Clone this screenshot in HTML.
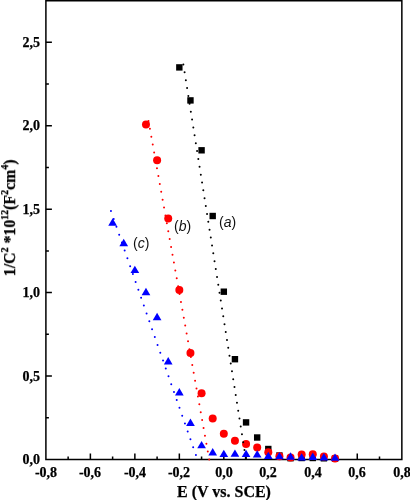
<!DOCTYPE html>
<html><head><meta charset="utf-8"><style>
html,body{margin:0;padding:0;background:#fff;}
body{width:410px;height:500px;position:relative;overflow:hidden;font-family:"Liberation Serif",serif;}
.tl,.ttl{will-change:transform;-webkit-text-stroke:0.25px #000;}
.lab{will-change:transform;}
.tl{position:absolute;font-weight:bold;font-size:14px;line-height:14px;white-space:nowrap;color:#000;}
.xl{transform:translateX(-50%);}
.yl{text-align:right;width:40px;}
.lab{position:absolute;font-family:"Liberation Sans",sans-serif;font-size:14px;line-height:14px;color:#111;white-space:nowrap;}
.ttl{position:absolute;font-weight:bold;font-size:16px;line-height:16px;white-space:nowrap;color:#000;}
sup{font-size:10px;vertical-align:baseline;position:relative;top:-7.5px;line-height:0}
</style></head><body>
<svg width="410" height="500" viewBox="0 0 410 500" style="position:absolute;left:0;top:0">
<path d="M68.14 459.50V456.50M90.38 459.50V453.50M112.62 459.50V456.50M134.86 459.50V453.50M157.10 459.50V456.50M179.34 459.50V453.50M201.58 459.50V456.50M223.82 459.50V453.50M246.06 459.50V456.50M268.30 459.50V453.50M290.54 459.50V456.50M312.78 459.50V453.50M335.02 459.50V456.50M357.26 459.50V453.50M379.50 459.50V456.50M45.90 417.77H48.90M45.90 376.05H51.90M45.90 334.32H48.90M45.90 292.60H51.90M45.90 250.88H48.90M45.90 209.15H51.90M45.90 167.43H48.90M45.90 125.70H51.90M45.90 83.97H48.90M45.90 42.25H51.90" stroke="#000" stroke-width="1.5" fill="none"/>
<rect x="45.9" y="0.75" width="355.95" height="458.75" fill="none" stroke="#000" stroke-width="1.5"/>
<rect x="176.14" y="64.20" width="6.4" height="6.4" fill="#000"/>
<rect x="187.26" y="97.20" width="6.4" height="6.4" fill="#000"/>
<rect x="198.38" y="147.10" width="6.4" height="6.4" fill="#000"/>
<rect x="209.50" y="212.80" width="6.4" height="6.4" fill="#000"/>
<rect x="220.62" y="288.50" width="6.4" height="6.4" fill="#000"/>
<rect x="231.74" y="356.00" width="6.4" height="6.4" fill="#000"/>
<rect x="242.86" y="419.20" width="6.4" height="6.4" fill="#000"/>
<rect x="253.98" y="434.30" width="6.4" height="6.4" fill="#000"/>
<rect x="265.10" y="445.80" width="6.4" height="6.4" fill="#000"/>
<rect x="276.22" y="452.30" width="6.4" height="6.4" fill="#000"/>
<rect x="287.34" y="455.00" width="6.4" height="6.4" fill="#000"/>
<rect x="298.46" y="454.80" width="6.4" height="6.4" fill="#000"/>
<rect x="309.58" y="454.80" width="6.4" height="6.4" fill="#000"/>
<rect x="320.70" y="455.10" width="6.4" height="6.4" fill="#000"/>
<rect x="331.82" y="455.40" width="6.4" height="6.4" fill="#000"/>
<circle cx="145.98" cy="124.50" r="4.0" fill="#f00"/>
<circle cx="157.10" cy="160.20" r="4.0" fill="#f00"/>
<circle cx="168.22" cy="218.60" r="4.0" fill="#f00"/>
<circle cx="179.34" cy="290.00" r="4.0" fill="#f00"/>
<circle cx="190.46" cy="353.10" r="4.0" fill="#f00"/>
<circle cx="201.58" cy="393.20" r="4.0" fill="#f00"/>
<circle cx="212.70" cy="418.40" r="4.0" fill="#f00"/>
<circle cx="223.82" cy="433.80" r="4.0" fill="#f00"/>
<circle cx="234.94" cy="440.80" r="4.0" fill="#f00"/>
<circle cx="246.06" cy="444.00" r="4.0" fill="#f00"/>
<circle cx="257.18" cy="447.60" r="4.0" fill="#f00"/>
<circle cx="268.30" cy="452.20" r="4.0" fill="#f00"/>
<circle cx="279.42" cy="456.30" r="4.0" fill="#f00"/>
<circle cx="290.54" cy="457.40" r="4.0" fill="#f00"/>
<circle cx="301.66" cy="454.40" r="4.0" fill="#f00"/>
<circle cx="312.78" cy="454.20" r="4.0" fill="#f00"/>
<circle cx="323.90" cy="456.60" r="4.0" fill="#f00"/>
<circle cx="335.02" cy="458.40" r="4.0" fill="#f00"/>
<path d="M112.62 218.30L116.97 225.70L108.27 225.70Z" fill="#00f"/>
<path d="M123.74 238.80L128.09 246.20L119.39 246.20Z" fill="#00f"/>
<path d="M134.86 265.70L139.21 273.10L130.51 273.10Z" fill="#00f"/>
<path d="M145.98 287.80L150.33 295.20L141.63 295.20Z" fill="#00f"/>
<path d="M157.10 312.80L161.45 320.20L152.75 320.20Z" fill="#00f"/>
<path d="M168.22 357.10L172.57 364.50L163.87 364.50Z" fill="#00f"/>
<path d="M179.34 388.10L183.69 395.50L174.99 395.50Z" fill="#00f"/>
<path d="M190.46 418.60L194.81 426.00L186.11 426.00Z" fill="#00f"/>
<path d="M201.58 440.90L205.93 448.30L197.23 448.30Z" fill="#00f"/>
<path d="M212.70 448.00L217.05 455.40L208.35 455.40Z" fill="#00f"/>
<path d="M223.82 449.70L228.17 457.10L219.47 457.10Z" fill="#00f"/>
<path d="M234.94 449.40L239.29 456.80L230.59 456.80Z" fill="#00f"/>
<path d="M246.06 449.65L250.41 457.05L241.71 457.05Z" fill="#00f"/>
<path d="M257.18 450.15L261.53 457.55L252.83 457.55Z" fill="#00f"/>
<path d="M268.30 451.70L272.65 459.10L263.95 459.10Z" fill="#00f"/>
<path d="M279.42 451.95L283.77 459.35L275.07 459.35Z" fill="#00f"/>
<path d="M290.54 452.30L294.89 459.70L286.19 459.70Z" fill="#00f"/>
<path d="M301.66 453.15L306.01 460.55L297.31 460.55Z" fill="#00f"/>
<path d="M312.78 452.55L317.13 459.95L308.43 459.95Z" fill="#00f"/>
<path d="M323.90 453.00L328.25 460.40L319.55 460.40Z" fill="#00f"/>
<path d="M335.02 453.40L339.37 460.80L330.67 460.80Z" fill="#00f"/>
<path d="M183.35 64.45L245.95 459.50" stroke="#000" stroke-width="2" stroke-linecap="round" stroke-dasharray="0 7.968" fill="none"/>
<path d="M148.50 120.95L209.23 459.50" stroke="#f00" stroke-width="2" stroke-linecap="round" stroke-dasharray="0 7.996" fill="none"/>
<path d="M110.96 211.10L197.46 459.50" stroke="#00f" stroke-width="2" stroke-linecap="round" stroke-dasharray="0 8.333" fill="none"/>
</svg>
<div class="tl xl" style="left:45.90px;top:465.5px">-0,8</div>
<div class="tl xl" style="left:90.38px;top:465.5px">-0,6</div>
<div class="tl xl" style="left:134.86px;top:465.5px">-0,4</div>
<div class="tl xl" style="left:179.34px;top:465.5px">-0,2</div>
<div class="tl xl" style="left:223.82px;top:465.5px">0,0</div>
<div class="tl xl" style="left:268.30px;top:465.5px">0,2</div>
<div class="tl xl" style="left:312.78px;top:465.5px">0,4</div>
<div class="tl xl" style="left:357.26px;top:465.5px">0,6</div>
<div class="tl xl" style="left:401.74px;top:465.5px">0,8</div>
<div class="tl yl" style="left:0px;top:453.00px">0,0</div>
<div class="tl yl" style="left:0px;top:369.55px">0,5</div>
<div class="tl yl" style="left:0px;top:286.10px">1,0</div>
<div class="tl yl" style="left:0px;top:202.65px">1,5</div>
<div class="tl yl" style="left:0px;top:119.20px">2,0</div>
<div class="tl yl" style="left:0px;top:35.75px">2,5</div>
<div class="lab" style="left:219px;top:215.2px">(<i>a</i>)</div>
<div class="lab" style="left:173.5px;top:218.8px">(<i>b</i>)</div>
<div class="lab" style="left:132.7px;top:236.3px">(<i>c</i>)</div>
<div class="ttl" style="left:177px;top:484px">E (V vs. SCE)</div>
<div class="ttl" id="yt" style="font-size:15.8px;left:0;top:0;transform-origin:0 0;transform:translate(2px,276.2px) rotate(-90deg)">1/C<sup>2</sup> *10<sup>12</sup>(F<sup>2</sup>cm<sup>4</sup>)</div>
</body></html>
